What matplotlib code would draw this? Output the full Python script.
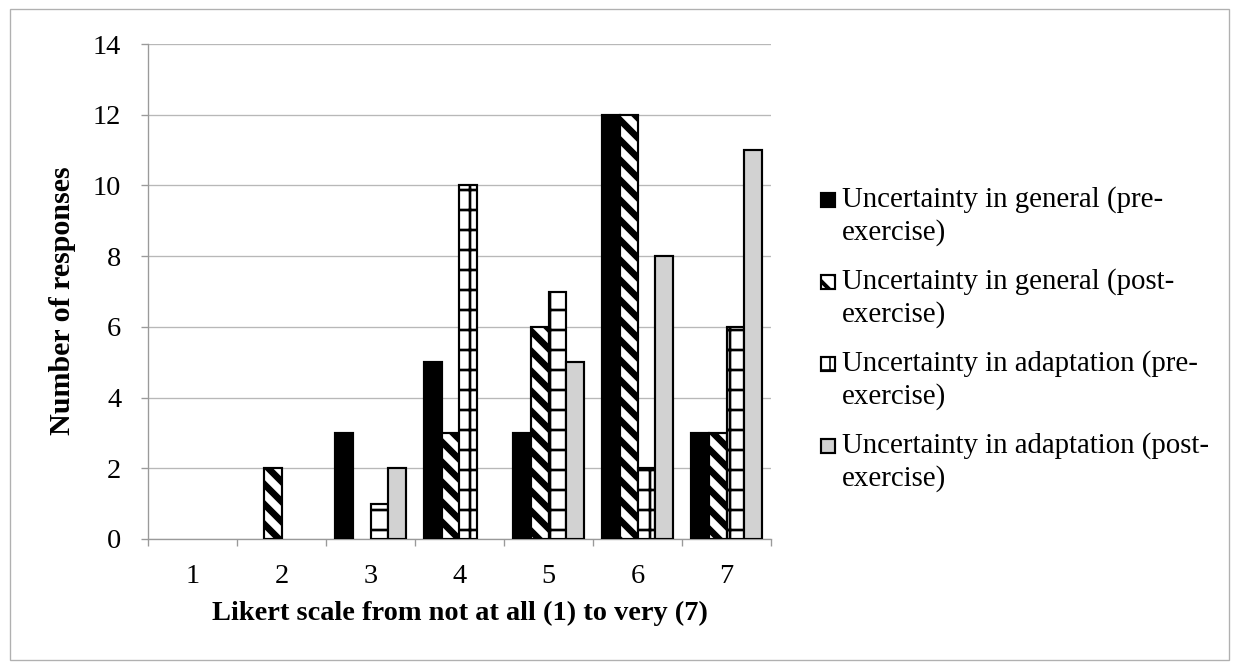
import matplotlib
matplotlib.use("Agg")
import matplotlib.pyplot as plt
from matplotlib.patches import Rectangle
import numpy as np

# Likert scale responses (counts per category)
categories = [1, 2, 3, 4, 5, 6, 7]
general_pre = [0, 0, 3, 5, 3, 12, 3]
general_post = [0, 2, 0, 3, 6, 12, 3]
adaptation_pre = [0, 0, 1, 10, 7, 2, 6]
adaptation_post = [0, 0, 2, 0, 5, 8, 11]

series_labels = [
    "Uncertainty in general (pre-\nexercise)",
    "Uncertainty in general (post-\nexercise)",
    "Uncertainty in adaptation (pre-\nexercise)",
    "Uncertainty in adaptation (post-\nexercise)",
]
y_ticks = [0, 2, 4, 6, 8, 10, 12, 14]
x_label = "Likert scale from not at all (1) to very (7)"
y_label = "Number of responses"

plt.rcParams["font.family"] = ["Liberation Serif", "DejaVu Serif"]

W, H = 1238, 663
DPI = 120
fig = plt.figure(figsize=(W / DPI, H / DPI), dpi=DPI)
fig.patch.set_facecolor("white")

# axes placed in pixel terms
ax_l, ax_t, ax_r, ax_b = 148, 44, 771, 539
ax = fig.add_axes([ax_l / W, 1 - ax_b / H, (ax_r - ax_l) / W, (ax_b - ax_t) / H])

styles = [
    dict(facecolor="black", hatch=None, hlw=1.0),
    dict(facecolor="white", hatch="\\\\", hlw=4.0),
    dict(facecolor="white", hatch="+", hlw=1.6),
    dict(facecolor="#d2d2d2", hatch=None, hlw=1.0),
]
series = [general_pre, general_post, adaptation_pre, adaptation_post]

x = np.array(categories, dtype=float)
width = 0.2
offsets = [-1.5 * width, -0.5 * width, 0.5 * width, 1.5 * width]

for vals, st, off in zip(series, styles, offsets):
    with plt.rc_context({"hatch.linewidth": st["hlw"]}):
        bars = ax.bar(x + off, vals, width, facecolor=st["facecolor"],
                      edgecolor="black", linewidth=1.3, hatch=st["hatch"],
                      zorder=3)
    for p, v in zip(bars.patches, vals):
        if hasattr(p, "set_hatch_linewidth"):
            p.set_hatch_linewidth(st["hlw"])
        if v == 0:
            p.set_visible(False)

ax.set_xlim(0.5, 7.5)
ax.set_ylim(0, 14)
ax.set_yticks(y_ticks)
ax.set_xticks(categories)
ax.set_xticks(np.arange(0.5, 8.0, 1.0), minor=True)

grid_c = "#b8b8b8"
ax.yaxis.grid(True, color=grid_c, linewidth=0.8, zorder=0)
ax.set_axisbelow(True)
for s in ("top", "right"):
    ax.spines[s].set_visible(False)
for s in ("left", "bottom"):
    ax.spines[s].set_color("#9a9a9a")
    ax.spines[s].set_linewidth(0.8)

tick_fs = 17
ax.tick_params(axis="y", which="major", length=4, color="#9a9a9a", width=0.8,
               pad=12, labelsize=tick_fs, labelcolor="black")
ax.tick_params(axis="x", which="major", length=0, pad=15, labelsize=tick_fs)
ax.tick_params(axis="x", which="minor", length=4, color="#9a9a9a", width=0.8)

ax.set_xlabel(x_label, fontsize=17, fontweight="bold")
ax.set_ylabel(y_label, fontsize=18, fontweight="bold")
ax.xaxis.set_label_coords(0.5, (ax_b - 613) / (ax_b - ax_t), transform=ax.transAxes)
ax.yaxis.set_label_coords((63 - ax_l) / (ax_r - ax_l), (ax_b - 301) / (ax_b - ax_t))
ax.xaxis.label.set_va("center")
ax.yaxis.label.set_va("center")

# legend drawn beside the plot, swatch aligned with the first line
leg_fs = 17.3
first_line_y = [200, 282, 364, 446]
line_gap = 33
for lab, st, y0 in zip(series_labels, styles, first_line_y):
    with plt.rc_context({"hatch.linewidth": st["hlw"] * 0.6}):
        sw = Rectangle((821 / W, 1 - (y0 + 7) / H), 14 / W, 14 / H,
                       transform=fig.transFigure, facecolor=st["facecolor"],
                       edgecolor="black", linewidth=1.3, hatch=st["hatch"])
    if hasattr(sw, "set_hatch_linewidth"):
        sw.set_hatch_linewidth(st["hlw"] * 0.6)
    fig.add_artist(sw)
    for i, line in enumerate(lab.split("\n")):
        fig.text(842 / W, 1 - (y0 + i * line_gap) / H, line, fontsize=leg_fs,
                 va="center", ha="left", color="black")

# thin outer frame
fig.add_artist(Rectangle((10 / W, 1 - 660 / H), (1229 - 10) / W, (660 - 9) / H,
                         transform=fig.transFigure, fill=False,
                         edgecolor="#b0b0b0", linewidth=0.8))

fig.savefig("out.png", dpi=DPI, facecolor="white")
